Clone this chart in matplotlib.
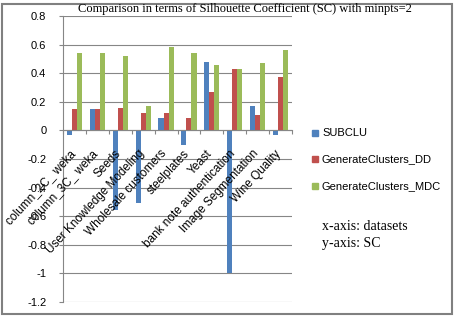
import numpy as np
import matplotlib.pyplot as plt
from matplotlib.patches import Rectangle

datasets = ['column_2C_ weka', 'column_3C_ weka', 'Seeds', 'User Knowledge Modeling',
            'Wholesale customers', 'steelplates', 'Yeast', 'bank note authentication',
            'Image Segmentation', 'Wine Quality']
subclu = [-0.03, 0.15, -0.56, -0.51, 0.09, -0.10, 0.48, -1.00, 0.17, -0.03]
gen_dd = [0.15, 0.15, 0.16, 0.12, 0.12, 0.09, 0.27, 0.43, 0.11, 0.37]
gen_mdc = [0.54, 0.54, 0.52, 0.17, 0.58, 0.54, 0.46, 0.43, 0.47, 0.56]
yticks = [0.8, 0.6, 0.4, 0.2, 0, -0.2, -0.4, -0.6, -0.8, -1, -1.2]

colors = ['#4F81BD', '#C0504D', '#9BBB59']
names = ['SUBCLU', 'GenerateClusters_DD', 'GenerateClusters_MDC']

fig = plt.figure(figsize=(4.56, 3.16), dpi=100)
ax = fig.add_axes([63 / 456, 14 / 316, 229 / 456, 286 / 316])

x = np.arange(len(datasets))
w = 0.22
for k, vals in enumerate([subclu, gen_dd, gen_mdc]):
    ax.bar(x + (k - 1) * w, vals, w, color=colors[k], zorder=3)

ax.set_xlim(-0.5, len(datasets) - 0.5)
ax.set_ylim(-1.2, 0.8)
ax.set_yticks(yticks)
ax.set_yticklabels([f'{t:g}' for t in yticks], fontsize=8, family='Liberation Sans')
ax.yaxis.grid(True, color='#868686', linewidth=0.8, zorder=0)

for s in ['top', 'right']:
    ax.spines[s].set_visible(False)
ax.spines['left'].set_color('#868686')
ax.spines['bottom'].set_position(('data', 0))
ax.spines['bottom'].set_color('#868686')
ax.spines['bottom'].set_zorder(4)
ax.tick_params(axis='y', length=3, color='#868686', pad=9)
ax.set_xticks(np.arange(len(datasets) + 1) - 0.5)
ax.set_xticklabels([])
ax.tick_params(axis='x', length=3, color='#868686')

# category labels sit next to the zero line, like Excel does
for i, name in enumerate(datasets):
    ax.text(i - 0.05, -0.15, name, rotation=47, ha='right', va='center',
            rotation_mode='anchor', fontsize=8.5, family='Liberation Sans', zorder=5)

fig.text(0.538, 0.97, 'Comparison in terms of Silhouette Coefficient (SC) with minpts=2',
         ha='center', va='center', fontsize=9, family='Liberation Serif')

# legend
ly = [133, 159, 186]
for k in range(3):
    fig.patches.append(Rectangle((312 / 456, 1 - (ly[k] + 3) / 316), 6 / 456, 6 / 316,
                                 transform=fig.transFigure, color=colors[k]))
    fig.text(322 / 456, 1 - ly[k] / 316, names[k], ha='left', va='center',
             fontsize=8, family='Liberation Sans')

fig.text(322 / 456, 1 - 227 / 316, 'x-axis: datasets', ha='left', va='center',
         fontsize=10, family='Liberation Serif')
fig.text(322 / 456, 1 - 244 / 316, 'y-axis: SC', ha='left', va='center',
         fontsize=10, family='Liberation Serif')

# chart border
fig.patches.append(Rectangle((2.5 / 456, 2.5 / 316), 450 / 456, 310 / 316,
                             transform=fig.transFigure, fill=False,
                             edgecolor='#808080', linewidth=1.5))

fig.savefig('out.png', dpi=100)
